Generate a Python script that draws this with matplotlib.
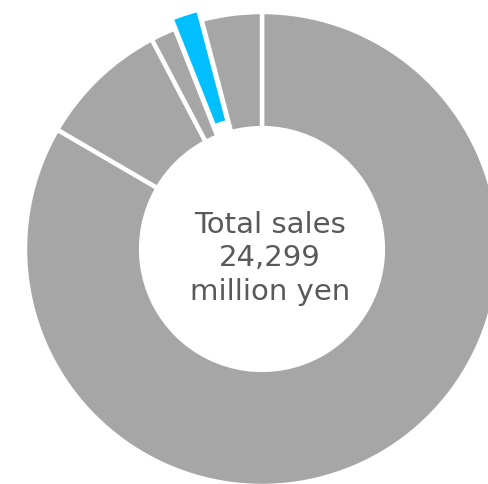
import matplotlib
matplotlib.use("Agg")
import matplotlib.pyplot as plt

# share of total sales per segment (percent), clockwise from 12 o'clock
segments = ["A", "B", "C", "D", "E"]
shares = [83.4, 8.9, 1.7, 1.9, 4.1]
colors = ["#a6a6a6", "#a6a6a6", "#a6a6a6", "#00bfff", "#a6a6a6"]
explode = [0, 0, 0, 0.045, 0]
center_label = "Total sales\n24,299\nmillion yen"

fig = plt.figure(figsize=(4.88, 4.85), dpi=100)
ax = fig.add_axes([0, 0, 1, 1])

ax.pie(shares, colors=colors, explode=explode, startangle=90, counterclock=False,
       radius=1.0,
       wedgeprops=dict(width=0.49, edgecolor="white", linewidth=3.2))

ax.text(0.034, -0.034, center_label, ha="center", va="center",
        fontsize=21, color="#595959", linespacing=1.25)

# place the donut like the reference (partly cut off at right and bottom)
ax.set_xlim(-262 / 237, (488 - 262) / 237)
ax.set_ylim(-(485 - 250) / 237, 250 / 237)
ax.set_aspect("auto")
ax.axis("off")

fig.savefig("out.png", dpi=100)
